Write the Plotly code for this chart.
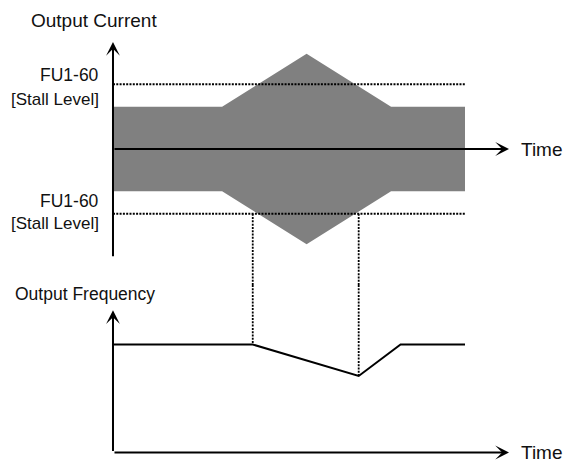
import plotly.graph_objects as go

# ---------------- data ----------------
# time axis (arbitrary units)
band_t = [0, 3.1, 5.5, 7.9, 10]
band_upper = [100, 100, 225, 100, 100]
band_lower = [-100, -100, -225, -100, -100]
stall_level = 153
stall_t = [3.97, 6.98]          # times where current crosses stall level
freq_t = [0, 3.97, 6.98, 8.17, 10]
freq_v = [60, 60, 42.5, 60, 60]
time_end = 10
time_arrow_end = 11.25
cur_axis_min, cur_axis_max = -257, 253
freq_axis_max = 79

# axis ranges
x_range = [-3.21, 13.125]
cur_range = [-321.3, 352]
freq_range = [-6.39, 93.06]

FONT = "Liberation Sans, Arial, sans-serif"
TXT = "#111111"
DOT = "2px,1.3px"

fig = go.Figure()

# gray band (output current envelope)
poly_t = band_t + band_t[::-1] + [band_t[0]]
poly_y = band_upper + band_lower[::-1] + [band_upper[0]]
fig.add_trace(go.Scatter(x=poly_t, y=poly_y, mode="lines", fill="toself",
                         fillcolor="#808080", line=dict(width=0, color="#808080"),
                         hoverinfo="skip", xaxis="x", yaxis="y"))

# stall level dotted lines
for lvl in (stall_level, -stall_level):
    fig.add_trace(go.Scatter(x=[band_t[0], time_end], y=[lvl, lvl], mode="lines",
                             line=dict(color="black", width=1.8, dash=DOT),
                             hoverinfo="skip", xaxis="x", yaxis="y"))

# vertical dotted lines: top part (current panel) and bottom part (frequency panel)
for t in stall_t:
    fig.add_trace(go.Scatter(x=[t, t], y=[-stall_level, cur_range[0]], mode="lines",
                             line=dict(color="black", width=1.8, dash=DOT),
                             hoverinfo="skip", xaxis="x", yaxis="y", cliponaxis=False))
    fv = freq_v[freq_t.index(t)]
    fig.add_trace(go.Scatter(x=[t, t], y=[freq_range[1], fv], mode="lines",
                             line=dict(color="black", width=1.8, dash=DOT),
                             hoverinfo="skip", xaxis="x2", yaxis="y2", cliponaxis=False))

# output frequency line
fig.add_trace(go.Scatter(x=freq_t, y=freq_v, mode="lines",
                         line=dict(color="black", width=2),
                         hoverinfo="skip", xaxis="x2", yaxis="y2"))

annotations = []

def arrow(x0, y0, x1, y1, xr, yr):
    annotations.append(dict(x=x1, y=y1, ax=x0, ay=y0, xref=xr, yref=yr,
                            axref=xr, ayref=yr, text="", showarrow=True,
                            arrowhead=3, arrowsize=1.15, arrowwidth=2,
                            arrowcolor="black", standoff=0, startstandoff=0))

# current panel axes
arrow(0, cur_axis_min, 0, cur_axis_max, "x", "y")
arrow(0, 0, time_arrow_end, 0, "x", "y")
# frequency panel axes
arrow(0, 0, 0, freq_axis_max, "x2", "y2")
arrow(0, 0, time_arrow_end, 0, "x2", "y2")

def label(x, y, text, xr, yr, size, xanchor="left"):
    annotations.append(dict(x=x, y=y, xref=xr, yref=yr, text=text, showarrow=False,
                            xanchor=xanchor, yanchor="middle",
                            font=dict(family=FONT, size=size, color=TXT)))

label(-2.39, 304.7, "Output Current", "x", "y", 19)
label(11.53, 0, "Time", "x", "y", 19)
label(-0.33, 174, "FU1-60", "x", "y", 17.5, "right")
label(-0.33, 118, "[Stall Level]", "x", "y", 17, "right")
label(-0.33, -122, "FU1-60", "x", "y", 17.5, "right")
label(-0.33, -175, "[Stall Level]", "x", "y", 17, "right")
label(-2.84, 88, "Output Frequency", "x2", "y2", 17.5)
label(11.53, 0, "Time", "x2", "y2", 19)

split = 1 - 285 / 464
fig.update_layout(
    width=575, height=464,
    margin=dict(l=0, r=0, t=0, b=0),
    paper_bgcolor="white", plot_bgcolor="white",
    showlegend=False,
    xaxis=dict(range=x_range, visible=False, domain=[0, 1], anchor="y"),
    yaxis=dict(range=cur_range, visible=False, domain=[split, 1], anchor="x"),
    xaxis2=dict(range=x_range, visible=False, domain=[0, 1], anchor="y2"),
    yaxis2=dict(range=freq_range, visible=False, domain=[0, split], anchor="x2"),
    annotations=annotations,
)

fig.write_html("out.html", config={"displayModeBar": False},
               post_script="document.body.style.margin='0';document.body.style.overflow='hidden';")
